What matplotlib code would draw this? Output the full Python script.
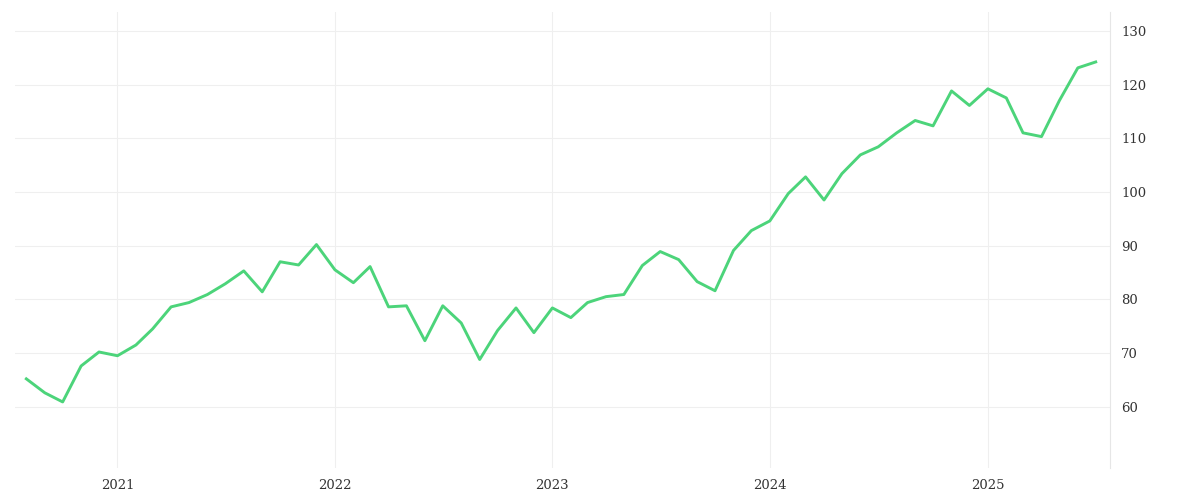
import matplotlib
matplotlib.use("Agg")
import matplotlib.pyplot as plt
import pandas as pd

dates = pd.date_range("2020-08-01", "2025-07-01", freq="MS")
values = [65.2, 62.6, 60.9, 67.6, 70.2, 69.5, 71.5, 74.5, 78.6, 79.4, 80.9, 82.9,
          85.3, 81.4, 87.0, 86.4, 90.2, 85.5, 83.1, 86.1, 78.6, 78.8, 72.3, 78.8,
          75.6, 68.8, 74.2, 78.4, 73.8, 78.4, 76.6, 79.4, 80.5, 80.9, 86.3, 88.9,
          87.4, 83.3, 81.6, 89.1, 92.8, 94.6, 99.7, 102.8, 98.5, 103.4, 106.9, 108.4,
          111.0, 113.3, 112.3, 118.8, 116.1, 119.2, 117.5, 111.0, 110.3, 117.0, 123.1, 124.2]
yticks = [60, 70, 80, 90, 100, 110, 120, 130]
xticks = ["2021", "2022", "2023", "2024", "2025"]

fig = plt.figure(figsize=(12, 5), dpi=100)
ax = fig.add_axes([15/1200, 32/500, 1095/1200, 456/500])
ax.plot(dates, values, color="#4cd47a", lw=2.1)
ax.set_ylim(48.6, 133.5)
ax.set_xlim(pd.Timestamp("2020-07-13"), pd.Timestamp("2025-07-25"))
ax.set_yticks(yticks)
ax.set_xticks([pd.Timestamp(f"{y}-01-01") for y in xticks])
ax.set_xticklabels(xticks)
ax.yaxis.tick_right()
for s in ["top", "left", "bottom"]:
    ax.spines[s].set_visible(False)
ax.spines["right"].set_color("#e6e6e6")
ax.grid(True, color="#efefef", lw=0.8)
ax.tick_params(length=0, labelsize=9.5, colors="#333333", pad=8)
for lab in ax.get_xticklabels() + ax.get_yticklabels():
    lab.set_family("DejaVu Serif")
fig.savefig("out.png")
